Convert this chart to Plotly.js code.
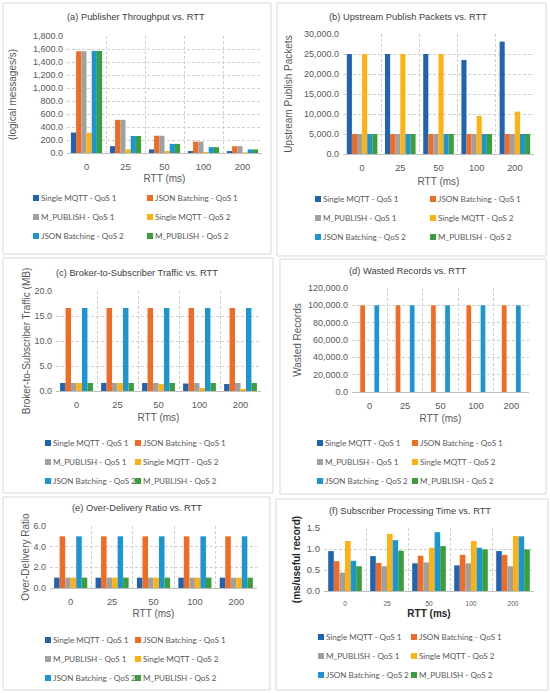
<!DOCTYPE html>
<html><head><meta charset="utf-8">
<script src="https://cdn.plot.ly/plotly-3.0.1.min.js"></script>
<style>html,body{margin:0;padding:0;background:#fff}</style>
</head><body><div id="chart" style="width:550px;height:693px"></div>
<script>
// ---------- DATA ----------
const rttLabels = ['0', '25', '50', '100', '200'];
const seriesNames = ['Single MQTT - QoS 1', 'JSON Batching - QoS 1', 'M_PUBLISH - QoS 1',
                     'Single MQTT - QoS 2', 'JSON Batching - QoS 2', 'M_PUBLISH - QoS 2'];
const seriesColors = ['#1F63B3', '#F26B22', '#A0A0A0', '#FFB20F', '#1C95D3', '#3A9E3C'];

// (a) Publisher Throughput (logical messages/s), one row per series
const throughput = [
  [315, 105, 55, 30, 30],
  [1565, 510, 265, 175, 105],
  [1565, 510, 265, 175, 105],
  [310, 55, 30, 15, 10],
  [1570, 262, 140, 90, 55],
  [1570, 262, 140, 90, 55]
];
// (b) Upstream Publish Packets
const upstreamPackets = [
  [25000, 25000, 25000, 23500, 28100],
  [5000, 5000, 5000, 5000, 5000],
  [5000, 5000, 5000, 5000, 5000],
  [25000, 25000, 25000, 9500, 10600],
  [5000, 5000, 5000, 5000, 5000],
  [5000, 5000, 5000, 5000, 5000]
];
// (c) Broker-to-Subscriber Traffic (MB)
const brokerTraffic = [
  [1.6, 1.6, 1.6, 1.5, 1.4],
  [16.6, 16.6, 16.6, 16.6, 16.6],
  [1.6, 1.6, 1.6, 1.6, 1.6],
  [1.6, 1.6, 1.4, 0.6, 0.4],
  [16.6, 16.6, 16.6, 16.6, 16.6],
  [1.6, 1.6, 1.6, 1.6, 1.6]
];
// (d) Wasted Records
const wastedRecords = [
  [0, 0, 0, 0, 0],
  [100000, 100000, 100000, 100000, 100000],
  [0, 0, 0, 0, 0],
  [0, 0, 0, 0, 0],
  [100000, 100000, 100000, 100000, 100000],
  [0, 0, 0, 0, 0]
];
// (e) Over-Delivery Ratio
const overDelivery = [
  [1.0, 1.0, 1.0, 1.0, 1.0],
  [5.0, 5.0, 5.0, 5.0, 5.0],
  [1.0, 1.0, 1.0, 1.0, 1.0],
  [1.0, 1.0, 1.0, 1.0, 1.0],
  [5.0, 5.0, 5.0, 5.0, 5.0],
  [1.0, 1.0, 1.0, 1.0, 1.0]
];
// (f) Subscriber Processing Time (ms/useful record)
const processingTime = [
  [0.95, 0.83, 0.66, 0.61, 0.95],
  [0.71, 0.67, 0.84, 0.86, 0.86],
  [0.44, 0.59, 0.68, 0.66, 0.59],
  [1.19, 1.36, 1.03, 1.19, 1.31],
  [0.72, 1.21, 1.40, 1.03, 1.30],
  [0.59, 0.96, 1.07, 0.99, 0.99]
];

// ---------- LAYOUT CONFIG (pixel geometry) ----------
const W = 550, H = 693;
const px = v => v / W, py = v => 1 - v / H;
const TXT = '#595959';
const ARIAL = 'Liberation Sans, Arial, sans-serif';
const LEGFONT = 'Lato, Open Sans, sans-serif';
const ROW = 19;        // plotly legend row pitch
const ROW0 = 15;       // offset from legend top to first row centre

const panels = [
  {title: '(a) Publisher Throughput vs. RTT', data: throughput, ytitle: '(logical messages/s)',
   range: [0, 1800], dtick: 200, plot: [67, 262, 36, 153], box: [3, 3, 271, 254], tpos: [136, 17],
   leg: [41, 155, 198], ysoff: 14, xsoff: 3},
  {title: '(b) Upstream Publish Packets vs. RTT', data: upstreamPackets, ytitle: 'Upstream Publish Packets',
   range: [0, 30000], dtick: 5000, plot: [343, 534, 34, 154], box: [277, 3, 546, 256], tpos: [408, 17],
   leg: [323, 438, 199], ysoff: 9, xsoff: 5},
  {title: '(c) Broker-to-Subscriber Traffic vs. RTT', data: brokerTraffic, ytitle: 'Broker-to-Subscriber Traffic (MB)',
   range: [0, 20], dtick: 5, plot: [56, 261, 291, 391], box: [3, 258, 273, 493], tpos: [137, 273],
   leg: [53, 143, 443], ysoff: 1, xsoff: 4},
  {title: '(d) Wasted Records vs. RTT', data: wastedRecords, ytitle: 'Wasted Records',
   range: [0, 120000], dtick: 20000, plot: [352, 529, 288, 392], box: [280, 259, 546, 494], tpos: [408, 271],
   leg: [325, 420, 443], ysoff: 4, xsoff: 4},
  {title: '(e) Over-Delivery Ratio vs. RTT', data: overDelivery, ytitle: 'Over-Delivery Ratio',
   range: [0, 6], dtick: 2, plot: [50, 257, 526, 588], box: [3, 497, 270, 690], tpos: [137, 508],
   leg: [53, 143, 640], ysoff: 1, xsoff: 3},
  {title: '(f) Subscriber Processing Time vs. RTT', data: processingTime, ytitle: '(ms/useful record)',
   range: [0, 1.5], dtick: 0.5, plot: [324, 534, 528, 591], box: [276, 499, 548, 690], tpos: [410, 511],
   leg: [326, 419, 637], ysoff: 4, xsoff: 4, bold: true, yfmt: '.1f'}
];

const traces = [];
const layout = {
  width: W, height: H,
  margin: {l: 0, r: 0, t: 0, b: 0, autoexpand: false},
  paper_bgcolor: '#ffffff', plot_bgcolor: '#ffffff',
  barmode: 'group', bargap: 0.2, bargroupgap: 0,
  showlegend: true,
  annotations: [], shapes: []
};

panels.forEach((p, i) => {
  const n = i + 1;
  const xa = n === 1 ? 'x' : 'x' + n, ya = n === 1 ? 'y' : 'y' + n;
  const xKey = n === 1 ? 'xaxis' : 'xaxis' + n, yKey = n === 1 ? 'yaxis' : 'yaxis' + n;
  p.data.forEach((vals, s) => {
    traces.push({
      type: 'bar', x: rttLabels, y: vals, name: seriesNames[s], xaxis: xa, yaxis: ya,
      marker: {color: seriesColors[s], line: {width: 0}}, showlegend: false, hoverinfo: 'x+y+name'
    });
  });
  // legend entries (two columns => two legends); symbol drawn as a small square next to the text
  const l1 = 2 * i + 1, l2 = 2 * i + 2;
  const lk1 = l1 === 1 ? 'legend' : 'legend' + l1, lk2 = 'legend' + l2;
  seriesNames.forEach((nm, s) => {
    traces.push({
      type: 'scatter', mode: 'markers', x: [null], y: [null], xaxis: xa, yaxis: ya, name: nm,
      marker: {color: 'rgba(0,0,0,0)', symbol: 'square', size: 1, opacity: 0},
      legend: (s % 2 === 0) ? lk1 : lk2, hoverinfo: 'skip'
    });
    const col = s % 2, row = Math.floor(s / 2);
    const tx = p.leg[col], cy = p.leg[2] + row * ROW;
    layout.shapes.push({
      type: 'rect', xref: 'paper', yref: 'paper', layer: 'above',
      x0: px(tx - 8), x1: px(tx - 2), y0: py(cy + 3), y1: py(cy - 3),
      line: {width: 0}, fillcolor: seriesColors[s]
    });
  });
  const legBase = {
    xanchor: 'left', yanchor: 'top', orientation: 'v', bgcolor: 'rgba(0,0,0,0)', borderwidth: 0,
    font: {family: LEGFONT, size: 8.1, color: TXT}, tracegroupgap: 0, itemclick: false, itemdoubleclick: false
  };
  layout[lk1] = Object.assign({}, legBase, {x: px(p.leg[0] - 40), y: py(p.leg[2] - ROW0)});
  layout[lk2] = Object.assign({}, legBase, {x: px(p.leg[1] - 40), y: py(p.leg[2] - ROW0)});

  const tickSize = p.bold ? 6.5 : 9.3;
  layout[xKey] = {
    domain: [px(p.plot[0]), px(p.plot[1])], anchor: ya, type: 'category',
    tickson: 'boundaries', ticks: '', ticklabelstandoff: p.bold ? 6 : 5,
    showgrid: true, gridcolor: '#d0d0d0', griddash: '3px,2px', gridwidth: 1,
    showline: true, linecolor: '#bfbfbf', linewidth: 1,
    tickfont: {family: ARIAL, size: tickSize, color: TXT},
    title: {text: 'RTT (ms)', standoff: p.xsoff,
            font: {family: ARIAL, size: 10, color: p.bold ? '#262626' : TXT, weight: p.bold ? 'bold' : 'normal'}},
    automargin: false, fixedrange: true
  };
  layout[yKey] = {
    domain: [py(p.plot[3]), py(p.plot[2])], anchor: xa, range: p.range, dtick: p.dtick, tick0: 0,
    tickformat: p.yfmt || ',.1f', ticks: '', ticklabelstandoff: 3,
    showgrid: true, gridcolor: '#d0d0d0', griddash: '3px,2px', gridwidth: 1,
    zeroline: false, showline: false,
    tickfont: {family: ARIAL, size: p.bold ? 9.5 : 9, color: TXT},
    title: {text: p.ytitle, standoff: p.ysoff,
            font: {family: ARIAL, size: 10, color: p.bold ? '#262626' : TXT, weight: p.bold ? 'bold' : 'normal'}},
    automargin: false, fixedrange: true
  };
  layout.annotations.push({
    text: p.title, xref: 'paper', yref: 'paper', x: px(p.tpos[0]), y: py(p.tpos[1]),
    xanchor: 'center', yanchor: 'middle', showarrow: false,
    font: {family: ARIAL, size: 9.3, color: '#404040'}
  });
  layout.shapes.push({
    type: 'rect', xref: 'paper', yref: 'paper', layer: 'below',
    x0: px(p.box[0]), x1: px(p.box[2]), y0: py(p.box[3]), y1: py(p.box[1]),
    line: {color: '#d9d9d9', width: 1}, fillcolor: 'rgba(0,0,0,0)'
  });
});

Plotly.newPlot('chart', traces, layout, {staticPlot: true, displayModeBar: false});
</script>
</body></html>
